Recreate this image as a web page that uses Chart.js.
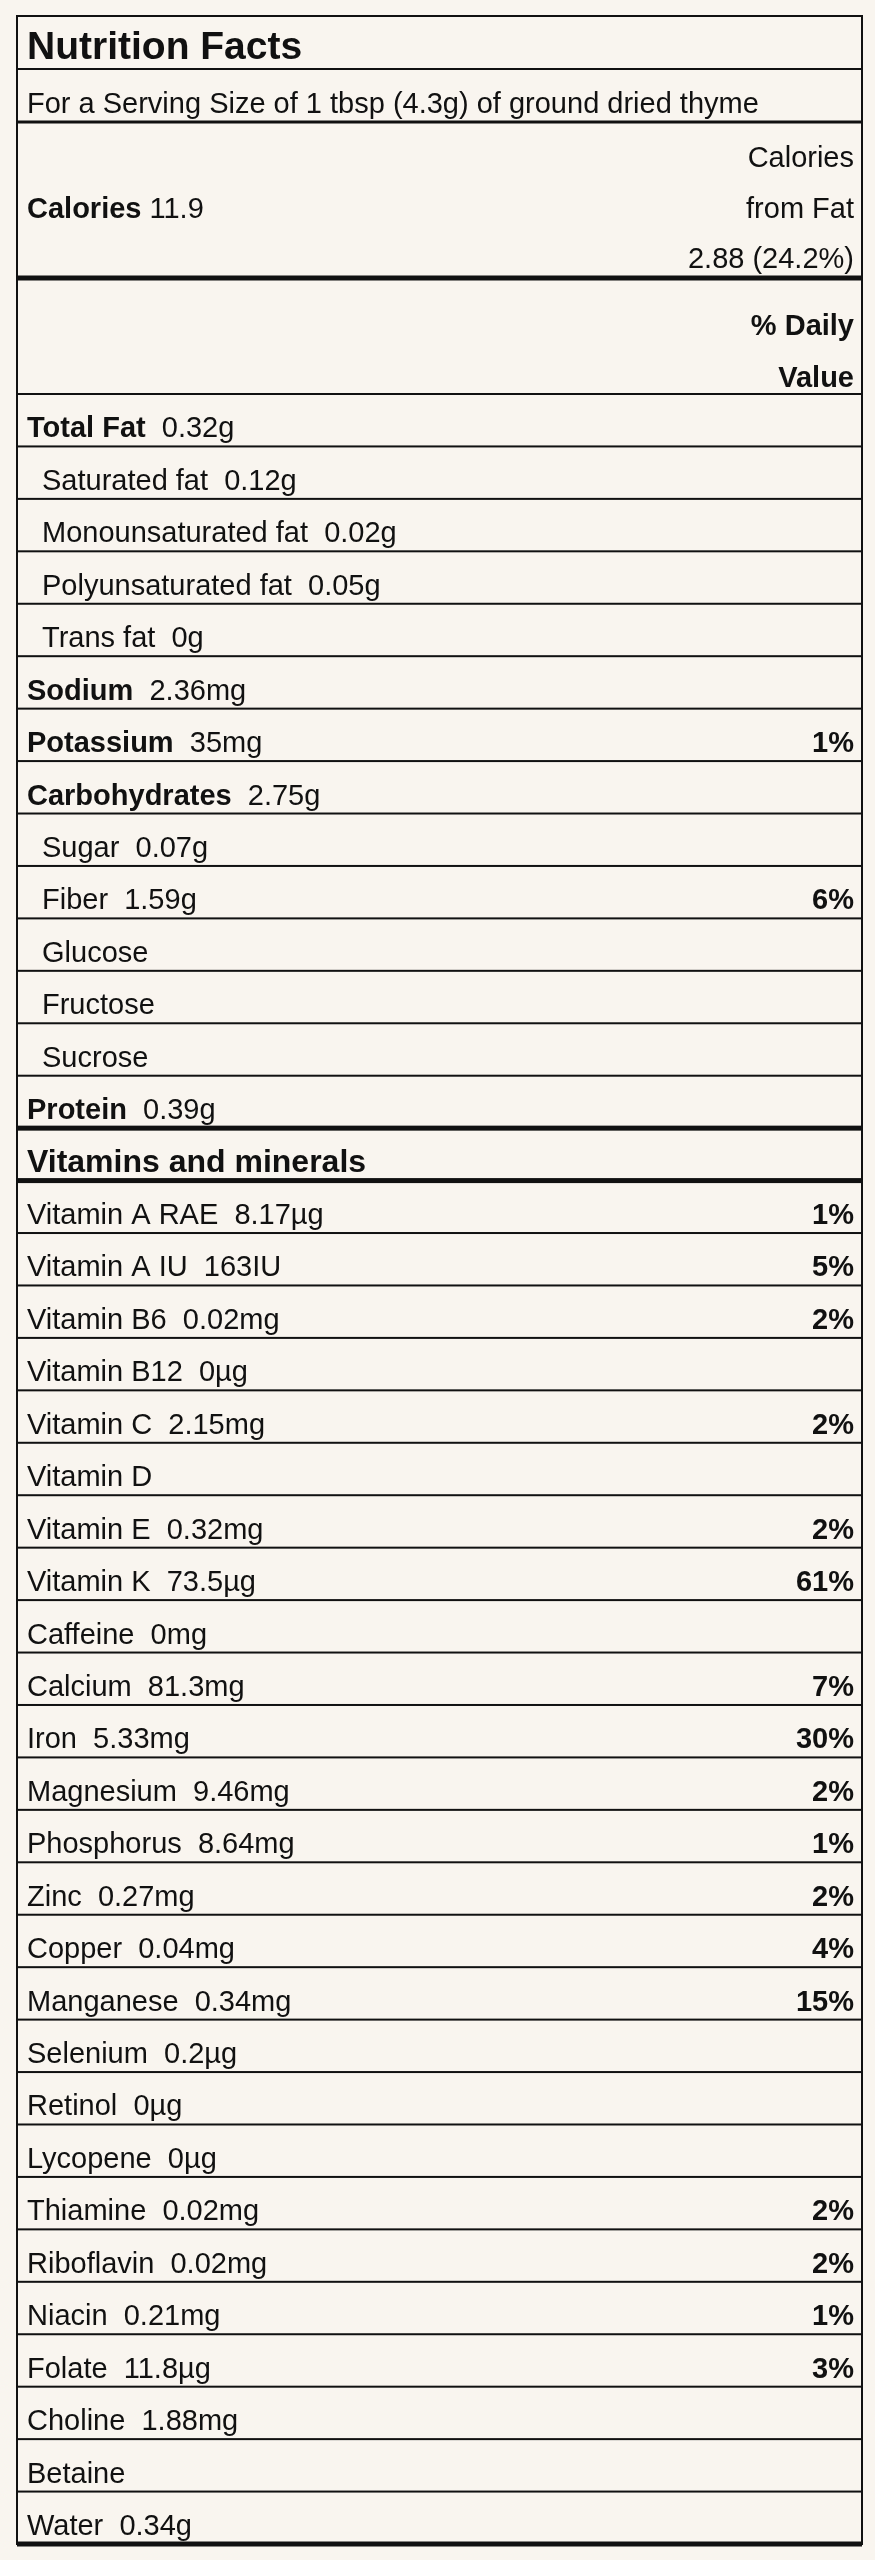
<html>
<head>
<script src="https://cdn.jsdelivr.net/npm/chart.js@4.4.1/dist/chart.umd.min.js"></script>
<style>
  body { margin: 0; background: #f9f5ef; }
  #box { width: 875px; height: 2560px; }
</style>
<script>
  var title = 'Nutrition Facts'
  var serving = 'For a Serving Size of 1 tbsp (4.3g) of ground dried thyme'
  var calories = '11.9'
  var caloriesFat = ['Calories', 'from Fat', '2.88 (24.2%)']
  var dvHeader = ['% Daily', 'Value']

  // rows drawn on the category axis
  var names = ['Total Fat', 'Saturated fat', 'Monounsaturated fat', 'Polyunsaturated fat', 'Trans fat',
    'Sodium', 'Potassium', 'Carbohydrates', 'Sugar', 'Fiber', 'Glucose', 'Fructose', 'Sucrose', 'Protein',
    'Vitamins and minerals',
    'Vitamin A RAE', 'Vitamin A IU', 'Vitamin B6', 'Vitamin B12', 'Vitamin C', 'Vitamin D', 'Vitamin E',
    'Vitamin K', 'Caffeine', 'Calcium', 'Iron', 'Magnesium', 'Phosphorus', 'Zinc', 'Copper', 'Manganese',
    'Selenium', 'Retinol', 'Lycopene', 'Thiamine', 'Riboflavin', 'Niacin', 'Folate', 'Choline', 'Betaine', 'Water']
  var amounts = ['0.32g', '0.12g', '0.02g', '0.05g', '0g', '2.36mg', '35mg', '2.75g', '0.07g', '1.59g', '', '', '', '0.39g',
    '',
    '8.17µg', '163IU', '0.02mg', '0µg', '2.15mg', '', '0.32mg', '73.5µg', '0mg', '81.3mg', '5.33mg', '9.46mg',
    '8.64mg', '0.27mg', '0.04mg', '0.34mg', '0.2µg', '0µg', '0µg', '0.02mg', '0.02mg', '0.21mg', '11.8µg', '1.88mg', '', '0.34g']
  var dailyValue = [null, null, null, null, null, null, 1, null, null, 6, null, null, null, null,
    null,
    1, 5, 2, null, 2, null, 2, 61, null, 7, 30, 2, 1, 2, 4, 15, null, null, null, 2, 2, 1, 3, null, null, null]
  var boldRows = ['Total Fat', 'Sodium', 'Potassium', 'Carbohydrates', 'Protein', 'Vitamins and minerals']
  var indentRows = ['Saturated fat', 'Monounsaturated fat', 'Polyunsaturated fat', 'Trans fat', 'Sugar', 'Fiber', 'Glucose', 'Fructose', 'Sucrose']
  var thickAfter = ['Protein', 'Vitamins and minerals', 'Water']

  var FONT = '"Liberation Sans", Arial, sans-serif'
  var SIZE = '29px '
  var INK = '#111'

  var labelPlugin = {
    id: 'label',
    afterDraw: function (chart) {
      var ctx = chart.ctx, a = chart.chartArea, y = chart.scales.y
      var L = a.left, R = a.right, tx = L + 10, rx = R - 8
      var top = 16
      function hline(yy, w) { ctx.fillStyle = INK; ctx.fillRect(L, yy - w / 2, R - L, w) }
      ctx.save()
      ctx.textBaseline = 'alphabetic'
      ctx.fillStyle = INK
      // header part
      ctx.font = 'bold 39px ' + FONT
      ctx.textAlign = 'left'
      ctx.fillText(title, tx, 59)
      hline(69, 2)
      ctx.font = SIZE + FONT
      ctx.fillText(serving, tx, 113)
      hline(122, 3)
      ctx.textAlign = 'right'
      ctx.fillText(caloriesFat[0], rx, 167)
      ctx.fillText(caloriesFat[1], rx, 218)
      ctx.fillText(caloriesFat[2], rx, 268)
      ctx.textAlign = 'left'
      ctx.font = 'bold ' + SIZE + FONT
      ctx.fillText('Calories', tx, 218)
      var w = ctx.measureText('Calories ').width
      ctx.font = SIZE + FONT
      ctx.fillText(calories, tx + w, 218)
      hline(278, 5)
      ctx.font = 'bold ' + SIZE + FONT
      ctx.textAlign = 'right'
      ctx.fillText(dvHeader[0], rx, 335)
      ctx.fillText(dvHeader[1], rx, 387)
      hline(a.top, 2)
      // rows
      var step = (a.bottom - a.top) / names.length
      names.forEach(function (n, i) {
        var bottom = y.getPixelForValue(i) + step / 2
        var base = bottom - 9
        var bold = boldRows.indexOf(n) >= 0
        var x = tx + (indentRows.indexOf(n) >= 0 ? 15 : 0)
        ctx.textAlign = 'left'
        ctx.font = (bold ? 'bold ' : '') + (n === 'Vitamins and minerals' ? '32px ' : SIZE) + FONT
        ctx.fillText(n, x, base)
        if (amounts[i]) {
          var nw = ctx.measureText(n + '  ').width
          ctx.font = SIZE + FONT
          ctx.fillText(amounts[i], x + nw, base)
        }
        if (dailyValue[i] != null) {
          ctx.font = 'bold ' + SIZE + FONT
          ctx.textAlign = 'right'
          ctx.fillText(dailyValue[i] + '%', rx, base)
        }
        hline(bottom, thickAfter.indexOf(n) >= 0 ? 5 : 2)
      })
      // frame
      ctx.strokeStyle = INK
      ctx.lineWidth = 2
      ctx.strokeRect(L, top, R - L, a.bottom - top)
      ctx.restore()
    }
  }

  function init() {
    new Chart(document.getElementById('label-chart'), {
      type: 'bar',
      data: {
        labels: names,
        datasets: [{ data: dailyValue, backgroundColor: 'rgba(0,0,0,0)', borderWidth: 0 }]
      },
      options: {
        indexAxis: 'y',
        responsive: false,
        animation: false,
        devicePixelRatio: 1,
        layout: { padding: { left: 17, right: 13, top: 394, bottom: 16 } },
        plugins: { legend: { display: false }, tooltip: { enabled: false } },
        scales: {
          y: { display: false, offset: true },
          x: { display: false, min: 0, max: 100 }
        }
      },
      plugins: [labelPlugin]
    })
  }
</script>
</head>
<body onload="init()">
  <div id="box"><canvas id="label-chart" width="875" height="2560"></canvas></div>
</body>
</html>
